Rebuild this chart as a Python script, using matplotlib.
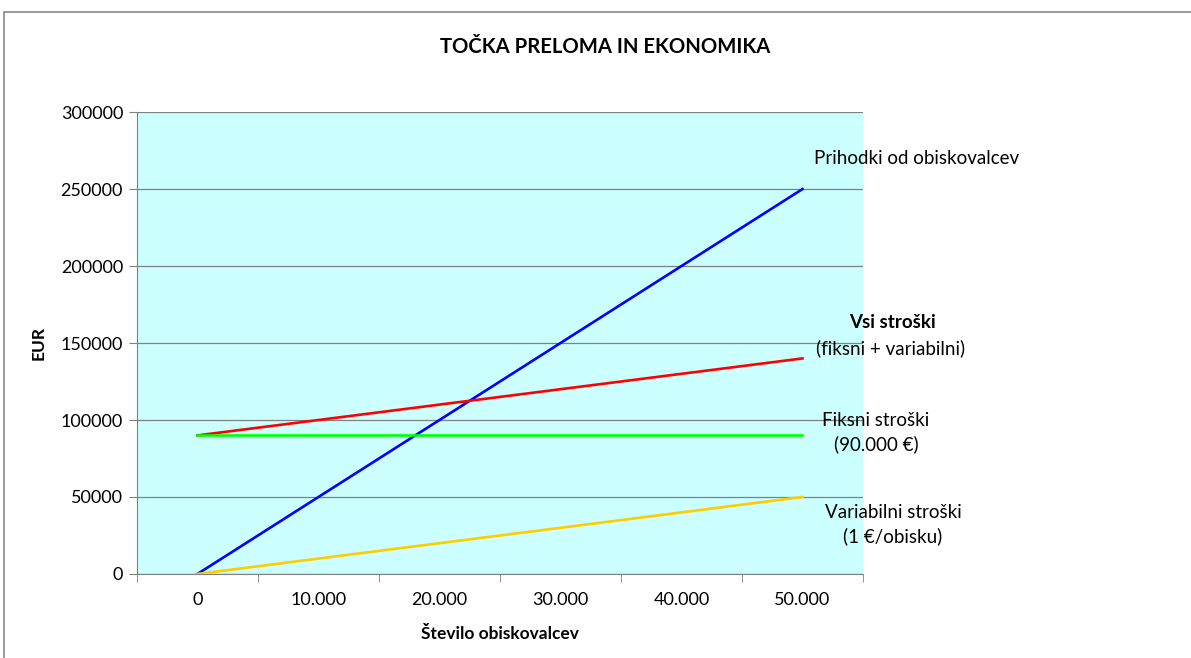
import matplotlib.pyplot as plt

# data
categories = ["0", "10.000", "20.000", "30.000", "40.000", "50.000"]
visitors = [0, 10000, 20000, 30000, 40000, 50000]
revenue = [0, 50000, 100000, 150000, 200000, 250000]
total_costs = [90000, 100000, 110000, 120000, 130000, 140000]
fixed_costs = [90000, 90000, 90000, 90000, 90000, 90000]
variable_costs = [0, 10000, 20000, 30000, 40000, 50000]
y_ticks = [0, 50000, 100000, 150000, 200000, 250000, 300000]

plt.rcParams['font.family'] = ['Lato', 'DejaVu Sans']

fig = plt.figure(figsize=(11.91, 6.58), dpi=100)
# outer chart frame
fig.patches.append(plt.Rectangle((4 / 1191, -0.1), 1.2, (658 - 12) / 658 + 0.1,
                                 transform=fig.transFigure, fill=False,
                                 edgecolor='#888888', linewidth=1.2))

ax = fig.add_axes([0.115, 0.1277, 0.6096, 0.702])
ax.set_facecolor('#CCFFFF')

xs = range(len(categories))
ax.plot(xs, revenue, color='#0000FF', linewidth=1.9, zorder=3)
ax.plot(xs, total_costs, color='#FF0000', linewidth=1.9, zorder=3)
ax.plot(xs, fixed_costs, color='#00FF00', linewidth=1.9, zorder=3)
ax.plot(xs, variable_costs, color='#FFCC00', linewidth=1.9, zorder=3)

ax.set_xlim(-0.5, len(categories) - 0.5)
ax.set_ylim(0, 300000)
ax.set_yticks(y_ticks)
ax.set_yticklabels([str(v) for v in y_ticks], fontsize=13)
ax.grid(axis='y', color='#808080', linewidth=0.9, zorder=4)

ax.set_xticks(list(xs))
ax.set_xticklabels(categories, fontsize=13)
ax.set_xticks([i - 0.5 for i in range(len(categories) + 1)], minor=True)
ax.tick_params(axis='x', which='major', length=0, pad=13)
ax.tick_params(axis='x', which='minor', length=6, color='#808080')
ax.tick_params(axis='y', length=6, color='#808080', pad=4)

for side in ['top', 'right']:
    ax.spines[side].set_visible(False)
for side in ['left', 'bottom']:
    ax.spines[side].set_color('#808080')

ax.set_ylabel('EUR', fontsize=12.5, fontweight='bold', labelpad=10)
ax.set_xlabel('Število obiskovalcev', fontsize=12.5, fontweight='bold', labelpad=13)

fig.text(605 / 1191, 1 - 47 / 658, 'TOČKA PRELOMA IN EKONOMIKA', fontsize=14.6,
         fontweight='bold', ha='center', va='center')

def label(x, y, s, bold=False):
    # drawn inside the axes so the gridlines pass over the text
    ax.text(x / 1191, 1 - y / 658, s, fontsize=13.5, ha='center', va='center',
            fontweight='bold' if bold else 'normal', transform=fig.transFigure,
            clip_on=False, zorder=2)

label(917, 159, 'Prihodki od obiskovalcev')
label(892, 323, 'Vsi stroški', bold=True)
label(891, 348, '(fiksni + variabilni)')
label(876, 420, 'Fiksni stroški')
label(876, 444, '(90.000 €)')
label(893, 512, 'Variabilni stroški')
label(893, 536, '(1 €/obisku)')

fig.savefig('out.png', dpi=100)
